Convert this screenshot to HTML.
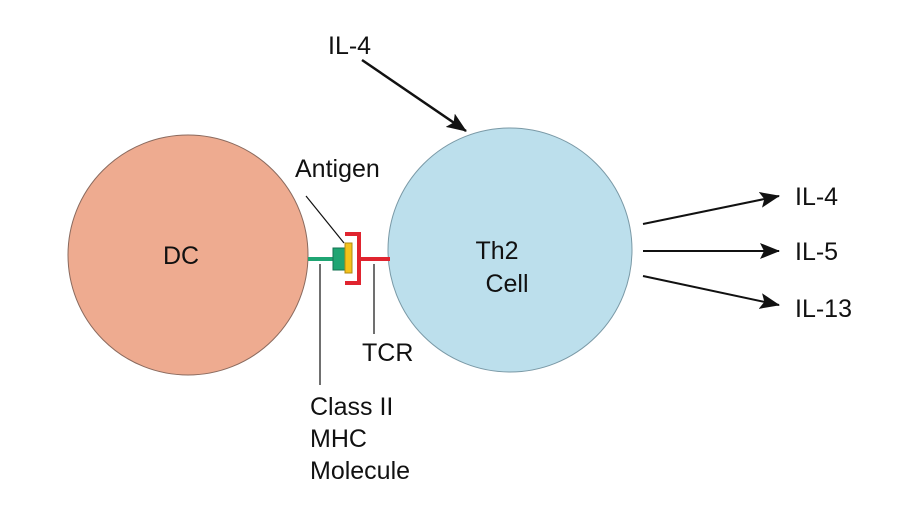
<!DOCTYPE html>
<html><head><style>
html,body{margin:0;padding:0;background:#fff;}
svg text{font-family:"Liberation Sans",sans-serif;font-size:25px;fill:#111;}
</style></head><body>
<svg width="905" height="507" viewBox="0 0 905 507" xmlns="http://www.w3.org/2000/svg">
<defs>
<marker id="b" markerWidth="20" markerHeight="16" refX="19" refY="8" orient="auto" markerUnits="userSpaceOnUse"><path d="M0,0 L20,8 L0,16 L4,8 z" fill="#111"/></marker></defs>
<ellipse cx="188" cy="255" rx="120" ry="120" fill="#eeab90" stroke="#8a6a5e" stroke-width="1"/>
<ellipse cx="510" cy="250" rx="122" ry="122" fill="#bcdfec" stroke="#7a99a6" stroke-width="1"/>
<text x="181" y="264" text-anchor="middle">DC</text>
<text x="497" y="259" text-anchor="middle">Th2</text>
<text x="507" y="292" text-anchor="middle">Cell</text>
<line x1="308" y1="259" x2="334" y2="259" stroke="#1fa573" stroke-width="4"/>
<rect x="333" y="248" width="12" height="22" fill="#1fa573" stroke="#137250" stroke-width="1"/>
<rect x="345" y="243" width="7" height="30" fill="#f4c21b" stroke="#b08a10" stroke-width="1"/>
<path d="M345,234 H359 V283 H345" fill="none" stroke="#e0242f" stroke-width="4"/>
<line x1="359" y1="259" x2="390" y2="259" stroke="#e0242f" stroke-width="4"/>
<line x1="306" y1="196" x2="344" y2="243" stroke="#111" stroke-width="1.2"/>
<line x1="320" y1="264" x2="320" y2="385" stroke="#111" stroke-width="1.2"/>
<line x1="374" y1="264" x2="374" y2="334" stroke="#111" stroke-width="1.2"/>
<text x="295" y="177">Antigen</text>
<text x="362" y="361">TCR</text>
<text x="310" y="415">Class II</text>
<text x="310" y="447">MHC</text>
<text x="310" y="479">Molecule</text>
<line x1="362" y1="60" x2="466" y2="131" stroke="#111" stroke-width="2.5" marker-end="url(#b)"/>
<text x="328" y="54">IL-4</text>
<line x1="643" y1="224" x2="779" y2="196" stroke="#111" stroke-width="2" marker-end="url(#b)"/>
<line x1="643" y1="251" x2="779" y2="251" stroke="#111" stroke-width="2" marker-end="url(#b)"/>
<line x1="643" y1="276" x2="779" y2="305" stroke="#111" stroke-width="2" marker-end="url(#b)"/>
<text x="795" y="205">IL-4</text>
<text x="795" y="260">IL-5</text>
<text x="795" y="317">IL-13</text>
</svg>
</body></html>
